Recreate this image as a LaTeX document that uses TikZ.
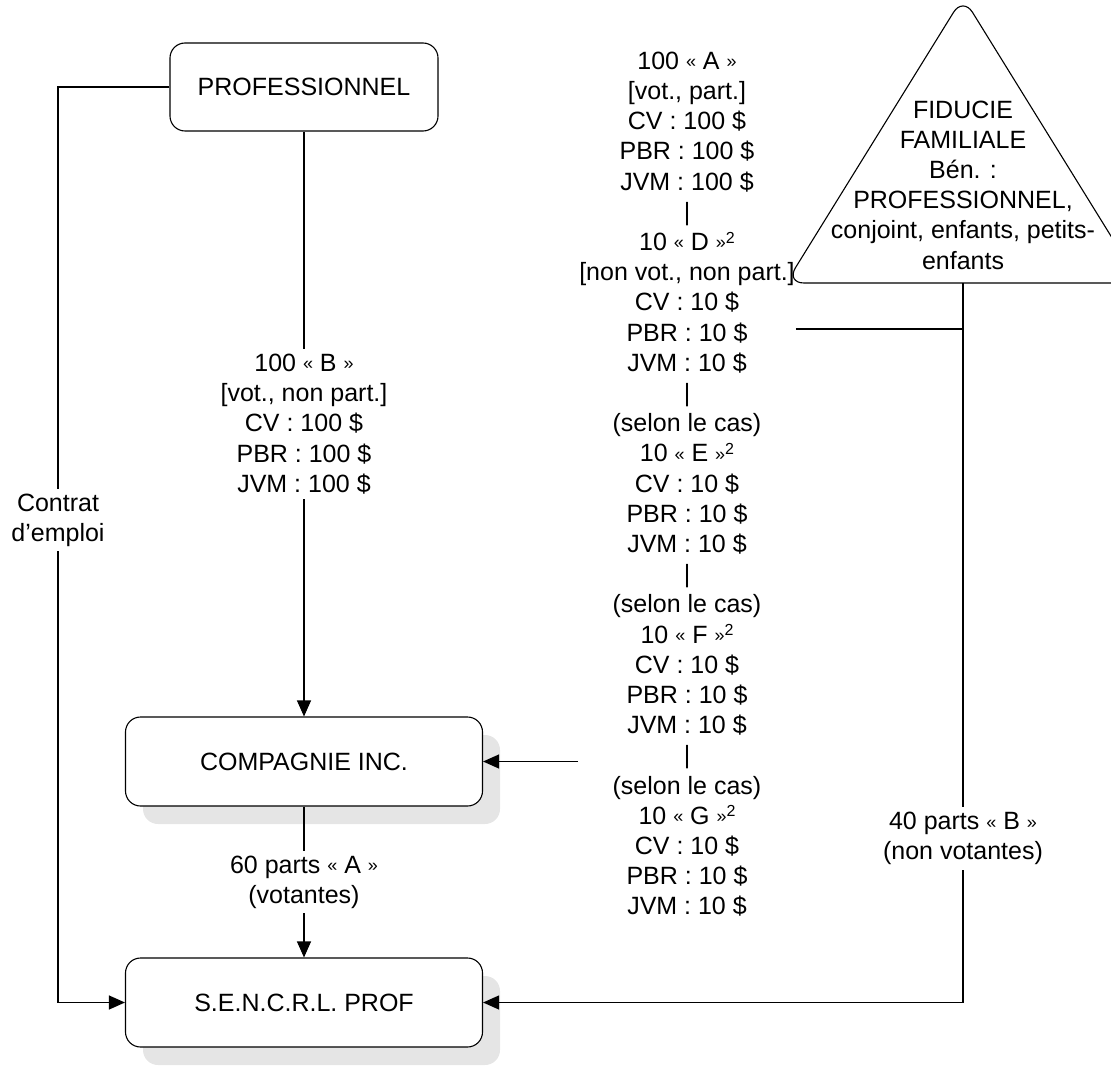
\documentclass[tikz,border=0pt]{standalone}
\usepackage{fontspec}
\setmainfont{Liberation Sans}
\usetikzlibrary{arrows.meta,shadows,calc}
\definecolor{shade}{HTML}{E5E5E5}
\newcommand{\gqL}{\raisebox{1.5pt}{\fontsize{18}{0}\selectfont «}}
\newcommand{\gqR}{\raisebox{1.5pt}{\fontsize{18}{0}\selectfont »}}
\newcommand{\supr}{\raisebox{7.3pt}{\fontsize{16}{0}\selectfont 2}}
\begin{document}
\begin{tikzpicture}[x=1pt,y=-1pt,
  txt/.style={font=\fontsize{25}{30.2}\selectfont, align=center},
  box/.style={txt, draw, fill=white, rounded corners=15pt, line width=1.1pt, minimum height=88pt},
  shadowed/.style={drop shadow={shadow xshift=17.5pt, shadow yshift=-18pt, fill=shade, opacity=1}},
  lbl/.style={txt, fill=white, inner sep=5pt},
  conn/.style={line width=1.1pt},
  arr/.style={conn, -{Triangle[length=16pt,width=14pt]}}
]
\useasboundingbox (0,0) rectangle (1111,1067);

% boxes
\node[box, minimum width=268pt] (prof) at (304,87) {PROFESSIONNEL};
\node[box, shadowed, minimum width=357pt, minimum height=89pt] (comp) at (304,761.5) {COMPAGNIE INC.};
\node[box, shadowed, minimum width=357pt, minimum height=89pt] (sen) at (304,1002.5) {S.E.N.C.R.L. PROF};

% trust (triangle)
\draw[conn, rounded corners=18pt] (963,283) -- (1140,283) -- (963,-3) -- (786,283) -- cycle;
\node[txt, inner sep=0pt] (fidtxt) at (963,185) {FIDUCIE\\FAMILIALE\\Bén. :\\PROFESSIONNEL,\\conjoint, enfants, petits-\\enfants};
\coordinate (fid) at (963,283);

% middle column of shares
\node[txt, inner sep=1pt] (mid) at (687,484.2) {100 \gqL{} A \gqR\\ {[vot., part.]}\\CV : 100 \$\\PBR : 100 \$\\JVM : 100 \$\\|\\
10 \gqL{} D \gqR\supr\\ {[non vot., non part.]}\\CV : 10 \$\\PBR : 10 \$\\JVM : 10 \$\\|\\
(selon le cas)\\10 \gqL{} E \gqR\supr\\CV : 10 \$\\PBR : 10 \$\\JVM : 10 \$\\|\\
(selon le cas)\\10 \gqL{} F \gqR\supr\\CV : 10 \$\\PBR : 10 \$\\JVM : 10 \$\\|\\
(selon le cas)\\10 \gqL{} G \gqR\supr\\CV : 10 \$\\PBR : 10 \$\\JVM : 10 \$};

% connectors
\coordinate (cL) at (58,0);
\draw[arr] (prof.west) -| (cL |- sen.west) -- (sen.west);
\node[lbl] (contrat) at (58,520) {Contrat\\d’emploi};

\draw[arr] (prof) -- node[lbl] (lblB) {100 \gqL{} B \gqR\\ {[vot., non part.]}\\CV : 100 \$\\PBR : 100 \$\\JVM : 100 \$} (comp);
\draw[arr] (comp) -- node[lbl] (lblA) {60 parts \gqL{} A \gqR\\(votantes)} (sen);
\draw[arr] (mid.west |- comp.east) -- (comp.east);

\coordinate (J) at (fid |- 0,329);
\draw[conn] (mid.east |- J) -- (J);
\draw[arr] (fid) -- node[lbl, pos=0.772] (lbl40) {40 parts \gqL{} B \gqR\\(non votantes)} (fid |- sen.east) -- (sen.east);
\end{tikzpicture}
\end{document}
